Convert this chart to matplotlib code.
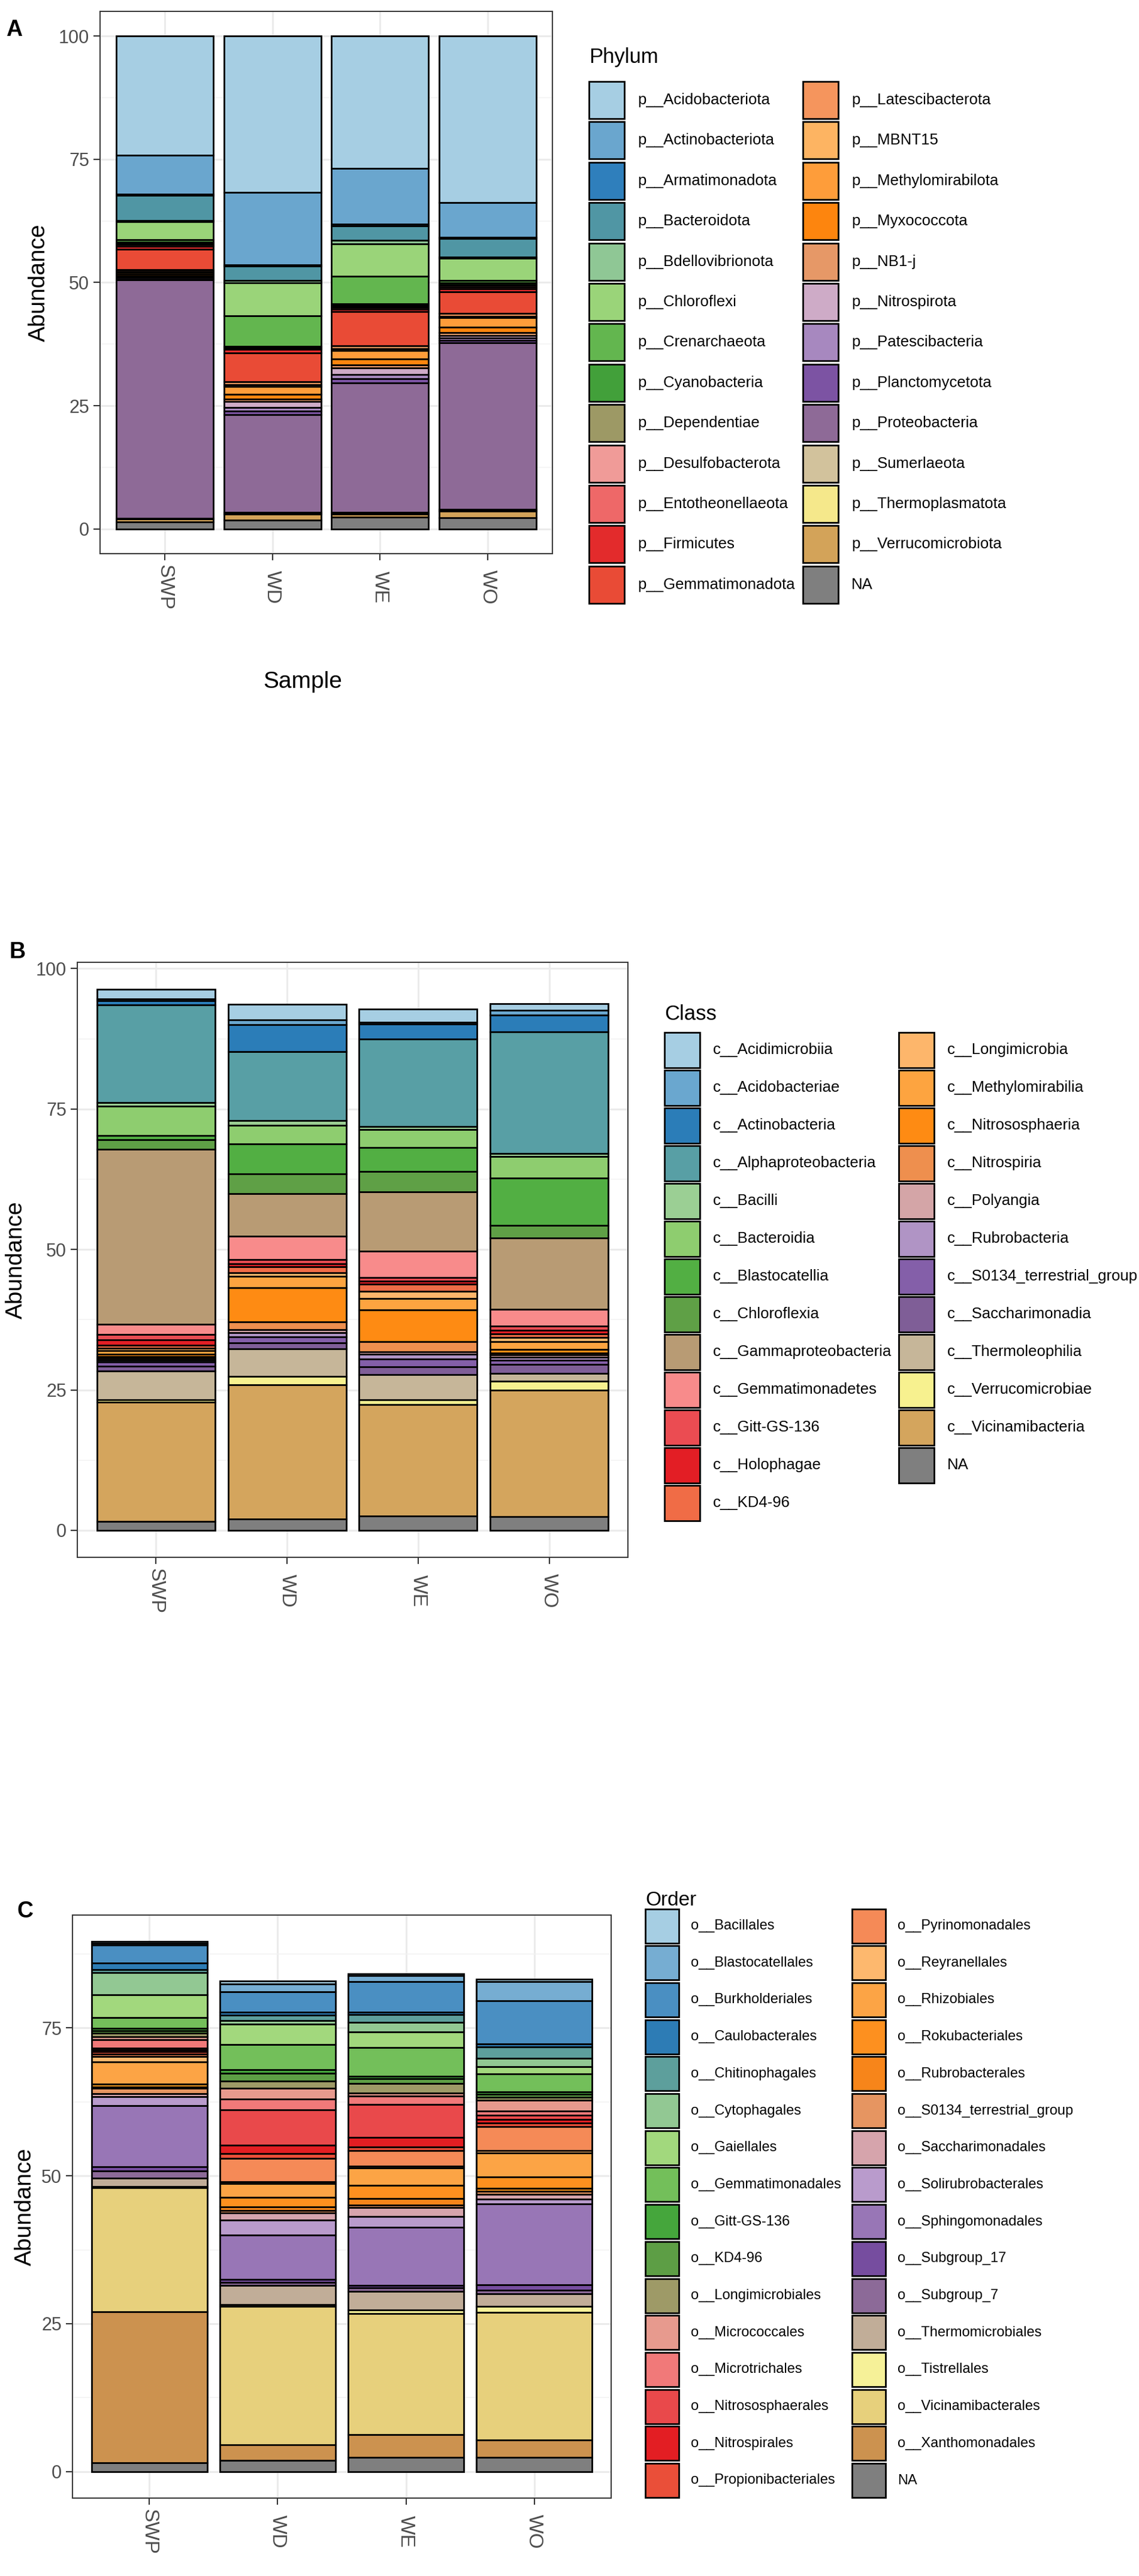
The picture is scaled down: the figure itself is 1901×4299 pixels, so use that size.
import matplotlib
matplotlib.use('Agg')
import matplotlib.pyplot as plt
import numpy as np
from matplotlib.patches import Rectangle
from matplotlib.ticker import MultipleLocator

plt.rcParams['font.family'] = ['Liberation Sans', 'DejaVu Sans']

samples = ['SWP', 'WD', 'WE', 'WO']

# ---- Phylum ----
phylum_taxa = ['p__Acidobacteriota', 'p__Actinobacteriota', 'p__Armatimonadota', 'p__Bacteroidota',
               'p__Bdellovibrionota', 'p__Chloroflexi', 'p__Crenarchaeota', 'p__Cyanobacteria',
               'p__Dependentiae', 'p__Desulfobacterota', 'p__Entotheonellaeota', 'p__Firmicutes',
               'p__Gemmatimonadota', 'p__Latescibacterota', 'p__MBNT15', 'p__Methylomirabilota',
               'p__Myxococcota', 'p__NB1-j', 'p__Nitrospirota', 'p__Patescibacteria',
               'p__Planctomycetota', 'p__Proteobacteria', 'p__Sumerlaeota', 'p__Thermoplasmatota',
               'p__Verrucomicrobiota', 'NA']
phylum_colors = ['#A6CEE3', '#6AA6CE', '#2F7FBC', '#5096A4', '#8FC795', '#9AD479', '#63B64F', '#42A03A',
                 '#9D9965', '#F09B98', '#EE6868', '#E32B2C', '#E94B36', '#F5955D', '#FDB462', '#FE9D3A',
                 '#FD850E', '#E69867', '#CEABC7', '#A788BF', '#7C53A3', '#8E6A97', '#D2C29C', '#F5E88B',
                 '#D3A359', '#7F7F7F']
phylum_SWP = [24.2, 7.9, 0.2, 5.1, 0.3, 3.6, 0.5, 0.2, 0.1, 0.2, 0.4, 0.6, 4.1,
              0.3, 0.2, 0.3, 0.4, 0.2, 0.2, 0.3, 0.2, 48.3, 0.1, 0.1, 0.5, 1.5]
phylum_WD = [31.7, 14.7, 0.3, 2.9, 0.4, 6.8, 6.1, 0.2, 0.1, 0.2, 0.2, 0.7, 5.8,
             0.6, 0.4, 1.6, 0.9, 0.5, 1.3, 0.7, 0.7, 19.8, 0.2, 0.2, 1.2, 1.8]
phylum_WE = [26.8, 11.4, 0.3, 2.9, 0.7, 6.6, 5.6, 0.3, 0.2, 0.3, 0.3, 0.5, 6.9,
             0.6, 0.4, 1.7, 1.2, 0.6, 1.4, 0.8, 0.8, 26.3, 0.2, 0.2, 0.6, 2.4]
phylum_WO = [33.8, 7.0, 0.3, 3.7, 0.3, 4.5, 0.5, 0.3, 0.2, 0.3, 0.4, 0.6, 4.4,
             0.6, 0.2, 1.9, 1.2, 0.5, 0.5, 0.5, 0.5, 33.8, 0.2, 0.2, 1.3, 2.3]

# ---- Class ----
class_taxa = ['c__Acidimicrobiia', 'c__Acidobacteriae', 'c__Actinobacteria', 'c__Alphaproteobacteria',
              'c__Bacilli', 'c__Bacteroidia', 'c__Blastocatellia', 'c__Chloroflexia',
              'c__Gammaproteobacteria', 'c__Gemmatimonadetes', 'c__Gitt-GS-136', 'c__Holophagae',
              'c__KD4-96', 'c__Longimicrobia', 'c__Methylomirabilia', 'c__Nitrososphaeria',
              'c__Nitrospiria', 'c__Polyangia', 'c__Rubrobacteria', 'c__S0134_terrestrial_group',
              'c__Saccharimonadia', 'c__Thermoleophilia', 'c__Verrucomicrobiae', 'c__Vicinamibacteria', 'NA']
class_colors = ['#A6CEE3', '#6AA7CF', '#2B7DB8', '#589FA5', '#9BCF94', '#8ECD6F', '#52AF43', '#5FA046',
                '#B89B74', '#F88B8B', '#EB4C52', '#E31E25', '#F06C46', '#FDB66B', '#FDA440', '#FE8B13',
                '#EE8F4E', '#D4A5A7', '#B094C5', '#845FA9', '#7F5E97', '#C6B699', '#F7F18F', '#D4A55D',
                '#7F7F7F']
class_SWP = [1.7, 0.3, 0.8, 17.4, 0.6, 5.2, 0.8, 1.7, 31.1, 1.8, 1.0, 1.0, 0.5,
             0.4, 0.7, 0.4, 0.3, 0.3, 0.3, 0.8, 0.8, 5.2, 0.4, 21.2, 1.6]
class_WD = [2.8, 0.9, 4.8, 12.3, 0.8, 3.3, 5.3, 3.6, 7.5, 4.2, 0.7, 0.6, 1.0,
            0.7, 2.0, 6.1, 1.4, 0.5, 0.8, 1.0, 1.1, 4.9, 1.5, 23.9, 2.0]
class_WE = [2.25, 0.4, 2.6, 15.6, 0.6, 3.2, 4.2, 3.6, 10.6, 4.7, 0.6, 0.6, 1.2,
            1.3, 2.1, 5.6, 1.8, 0.5, 0.8, 1.4, 1.4, 4.5, 0.8, 19.9, 2.5]
class_WO = [1.2, 0.8, 3.05, 21.6, 0.6, 3.8, 8.4, 2.3, 12.7, 2.9, 0.8, 0.6, 0.7,
            0.7, 1.4, 0.6, 0.4, 0.4, 0.5, 0.8, 1.6, 1.4, 1.5, 22.6, 2.4]

# ---- Order ----
order_taxa = ['o__Bacillales', 'o__Blastocatellales', 'o__Burkholderiales', 'o__Caulobacterales',
              'o__Chitinophagales', 'o__Cytophagales', 'o__Gaiellales', 'o__Gemmatimonadales',
              'o__Gitt-GS-136', 'o__KD4-96', 'o__Longimicrobiales', 'o__Micrococcales',
              'o__Microtrichales', 'o__Nitrososphaerales', 'o__Nitrospirales', 'o__Propionibacteriales',
              'o__Pyrinomonadales', 'o__Reyranellales', 'o__Rhizobiales', 'o__Rokubacteriales',
              'o__Rubrobacterales', 'o__S0134_terrestrial_group', 'o__Saccharimonadales',
              'o__Solirubrobacterales', 'o__Sphingomonadales', 'o__Subgroup_17', 'o__Subgroup_7',
              'o__Thermomicrobiales', 'o__Tistrellales', 'o__Vicinamibacterales', 'o__Xanthomonadales', 'NA']
order_colors = ['#A6CEE3', '#76ADD2', '#4A8FC2', '#2D7CB5', '#5D9F9C', '#92C893', '#A2D87D', '#73BF5A',
                '#45A63C', '#5D9E45', '#9E9A67', '#E79A8E', '#F17979', '#E9494B', '#E31E23', '#EA4F39',
                '#F58A57', '#FDB86E', '#FCA445', '#FD901F', '#F7851A', '#E69561', '#D6A4AC', '#B99BCC',
                '#9876B6', '#764D9F', '#8C6A98', '#C1AD98', '#F6F198', '#E7D07C', '#CC924F', '#7F7F7F']
order_SWP = [0.3, 0.3, 3.0, 1.1, 0.5, 3.8, 3.8, 1.9, 0.4, 0.4, 0.6, 0.5, 1.4, 0.3, 0.3, 0.4,
             0.4, 0.9, 3.8, 0.5, 0.2, 0.9, 0.5, 1.5, 10.4, 0.7, 1.2, 1.4, 0.2, 21.0, 25.5, 1.5]
order_WD = [0.5, 1.3, 3.4, 0.5, 0.9, 0.7, 3.4, 4.3, 0.6, 1.3, 1.2, 1.8, 1.8, 6.0, 1.4, 0.8,
            4.0, 0.3, 2.3, 1.6, 0.7, 0.4, 1.2, 2.5, 7.5, 0.5, 0.5, 3.3, 0.3, 23.4, 2.6, 1.9]
order_WE = [0.3, 1.05, 5.1, 0.4, 1.4, 1.6, 2.6, 4.9, 0.4, 0.8, 1.6, 0.5, 1.4, 5.6, 1.6, 0.6,
            2.7, 0.3, 2.9, 2.2, 1.1, 0.5, 1.5, 1.8, 9.8, 0.4, 0.6, 3.2, 0.6, 20.4, 3.9, 2.4]
order_WO = [0.4, 3.2, 7.3, 0.5, 1.9, 1.4, 1.3, 3.0, 0.4, 0.5, 0.5, 1.8, 0.8, 0.7, 0.6, 0.6,
            4.0, 0.4, 4.1, 1.9, 0.5, 0.5, 0.8, 0.8, 13.7, 0.9, 0.6, 2.2, 1.0, 21.6, 2.9, 2.4]

W, H = 1901, 4299
fig = plt.figure(figsize=(W / 100, H / 100), dpi=100)

over = fig.add_axes([0, 0, 1, 1])
over.set_xlim(0, W)
over.set_ylim(H, 0)
over.axis('off')

XTICK_SIZE = 24


def px_axes(left, top, right, bottom):
    return fig.add_axes([left / W, 1 - bottom / H, (right - left) / W, (bottom - top) / H])


def draw_panel(box, table, colors, letter, letter_xy, ylab_x, xlab=None):
    ax = px_axes(*box)
    vals = np.array(table)
    x = np.arange(1, len(samples) + 1)
    bottoms = np.zeros(len(samples))
    # first taxon ends up on top, as in ggplot stacking
    for j in range(vals.shape[1] - 1, -1, -1):
        ax.bar(x, vals[:, j], width=0.9, bottom=bottoms, color=colors[j],
               edgecolor='black', linewidth=2.0, zorder=3)
        bottoms += vals[:, j]
    top = bottoms.max()
    ax.set_xlim(0.4, 4.6)
    ax.set_ylim(-0.05 * top, 1.05 * top)
    ax.yaxis.set_major_locator(MultipleLocator(25))
    ax.yaxis.set_minor_locator(MultipleLocator(12.5))
    ax.set_xticks(x)
    # labels centred on the longest one, like ggplot's hjust = 0.5
    ax.set_xticklabels(samples, rotation=270, va='center', fontsize=XTICK_SIZE)
    ax.grid(which='major', color='#EBEBEB', linewidth=2.2, zorder=0)
    ax.grid(which='minor', axis='y', color='#F2F2F2', linewidth=1.1, zorder=0)
    ax.set_axisbelow(True)
    ax.tick_params(which='major', length=8, width=1.5, color='#333333',
                   labelsize=22, labelcolor='#4D4D4D', pad=5)
    ax.tick_params(axis='x', labelsize=XTICK_SIZE, pad=5 + XTICK_SIZE * 2.28 / 2)
    ax.tick_params(which='minor', length=0)
    for s in ax.spines.values():
        s.set_color('#333333')
        s.set_linewidth(1.4)
    left, t, right, bottom = box
    over.text(letter_xy[0], letter_xy[1], letter, fontsize=27, fontweight='bold',
              ha='left', va='center')
    over.text(ylab_x, (t + bottom) / 2, 'Abundance', fontsize=28, rotation=90,
              ha='center', va='center')
    if xlab is not None:
        over.text(xlab[0], xlab[1], 'Sample', fontsize=28, ha='center', va='center')
    return ax


def draw_legend(title, taxa, colors, x1, x2, y_title, y_row1, pitch, key_w, key_h,
                text_dx, nrow, title_size, text_size):
    over.text(x1, y_title, title, fontsize=title_size, ha='left', va='center')
    for i, (name, col) in enumerate(zip(taxa, colors)):
        c, r = divmod(i, nrow)
        kx = x1 if c == 0 else x2
        cy = y_row1 + r * pitch
        over.add_patch(Rectangle((kx, cy - key_h / 2), key_w, key_h, facecolor=col,
                                 edgecolor='black', linewidth=2.0))
        over.text(kx + text_dx, cy, name, fontsize=text_size, ha='left', va='center')


# panel A
draw_panel((167, 19, 922, 924), [phylum_SWP, phylum_WD, phylum_WE, phylum_WO],
           phylum_colors, 'A', (10, 50), 65, xlab=(505, 1138))
draw_legend('Phylum', phylum_taxa, phylum_colors, 983, 1340, 96, 167, 67.4, 59, 62,
            81, 13, 25, 18.5)

# panel B
draw_panel((129, 1606, 1048, 2599), [class_SWP, class_WD, class_WE, class_WO],
           class_colors, 'B', (15, 1589), 27)
draw_legend('Class', class_taxa, class_colors, 1109, 1500, 1692, 1752, 63.0, 59, 59,
            81, 13, 25, 18.5)

# panel C
draw_panel((121, 3196, 1020, 4169), [order_SWP, order_WD, order_WE, order_WO],
           order_colors, 'C', (28, 3190), 42)
draw_legend('Order', order_taxa, order_colors, 1077, 1422, 3172, 3214, 61.7, 56, 57,
            76, 16, 24, 17)

fig.savefig('out.png', dpi=100)
